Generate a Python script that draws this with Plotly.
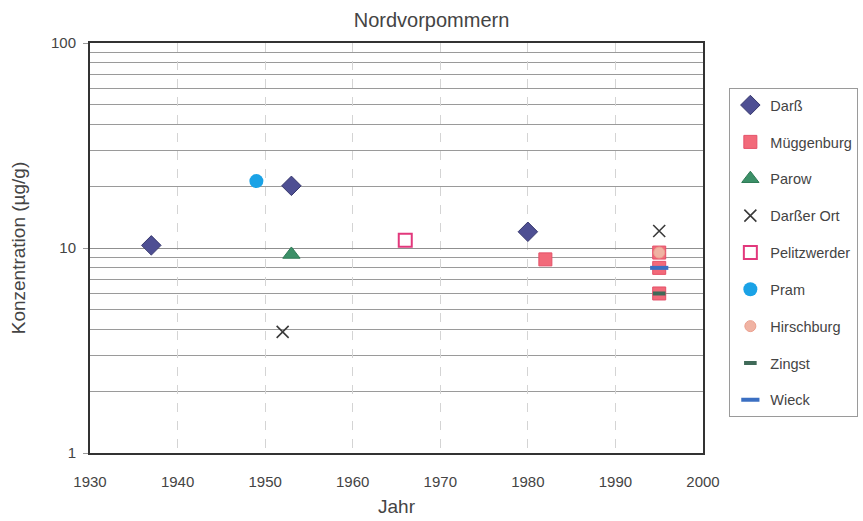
import plotly.graph_objects as go

# ---- data ----
series_names = ["Darß", "Müggenburg", "Parow", "Darßer Ort", "Pelitzwerder",
                "Pram", "Hirschburg", "Zingst", "Wieck"]
darss_years = [1937, 1953, 1980]
darss_vals = [10.3, 20.1, 12.0]
mueggenburg_years = [1982, 1995, 1995, 1995]
mueggenburg_vals = [8.8, 9.5, 8.0, 6.0]
parow_years = [1953]
parow_vals = [9.3]
darsser_ort_years = [1952, 1995]
darsser_ort_vals = [3.9, 12.1]
pelitzwerder_years = [1966]
pelitzwerder_vals = [10.9]
pram_years = [1949]
pram_vals = [21.2]
hirschburg_years = [1995]
hirschburg_vals = [9.5]
zingst_years = [1995]
zingst_vals = [6.0]
wieck_years = [1995]
wieck_vals = [8.0]

x_ticks = [1930, 1940, 1950, 1960, 1970, 1980, 1990, 2000]
y_ticks = [1, 10, 100]

FONT = "Arial, Liberation Sans, Helvetica, sans-serif"

styles = [
    dict(symbol="diamond", size=15, color="#4E4F93", line=dict(color="#38396E", width=1)),
    dict(symbol="square", size=13, color="#F26A7A", line=dict(color="#E45068", width=1)),
    dict(symbol="triangle-up", size=15, color="#3C9068", line=dict(color="#2E7A55", width=1)),
    dict(symbol="x-thin-open", size=12, color="#3A3A3A", line=dict(color="#3A3A3A", width=1.6)),
    dict(symbol="square-open", size=13, color="#E2387C", line=dict(color="#E2387C", width=2)),
    dict(symbol="circle", size=14, color="#1AA2E6", line=dict(color="#1AA2E6", width=0)),
    dict(symbol="circle", size=11, color="#F0B3A3", line=dict(color="#EBA08F", width=1)),
    dict(symbol="line-ew-open", size=9, color="#3F6A58", line=dict(color="#3F6A58", width=4)),
    dict(symbol="line-ew-open", size=13, color="#3B6FC2", line=dict(color="#3B6FC2", width=4)),
]

data = [
    (darss_years, darss_vals),
    (mueggenburg_years, mueggenburg_vals),
    (parow_years, parow_vals),
    (darsser_ort_years, darsser_ort_vals),
    (pelitzwerder_years, pelitzwerder_vals),
    (pram_years, pram_vals),
    (hirschburg_years, hirschburg_vals),
    (zingst_years, zingst_vals),
    (wieck_years, wieck_vals),
]

fig = go.Figure()
for name, (xs, ys), st in zip(series_names, data, styles):
    fig.add_trace(go.Scatter(x=xs, y=ys, mode="markers", name=name,
                             legendgroup=name, marker=st))

minor_vals = [k * 10 ** e for e in (0, 1) for k in range(2, 10)]

fig.update_layout(
    width=863, height=521,
    margin=dict(l=90, r=160, t=43, b=68, autoexpand=False),
    paper_bgcolor="white", plot_bgcolor="white",
    font=dict(family=FONT, color="#444444", size=14),
    title=dict(text="Nordvorpommern", x=0.5, xanchor="center", y=0.962,
               yanchor="middle", font=dict(size=20, color="#444444")),
    showlegend=True,
    legend=dict(x=1.043, xanchor="left", y=0.89, yanchor="top",
                bgcolor="white", bordercolor="#9a9a9a", borderwidth=1,
                font=dict(size=14.5, color="#444444"),
                tracegroupgap=15, itemwidth=30),
    xaxis=dict(range=[1930, 2000], tickvals=x_ticks, ticktext=[str(v) for v in x_ticks],
               showgrid=True, gridcolor="#d4d4d4", griddash="dash", gridwidth=1,
               showline=True, linecolor="#333333", linewidth=2, mirror=True,
               ticks="", ticklabelstandoff=14, zeroline=False,
               title=dict(text="Jahr", font=dict(size=19, color="#444444"), standoff=11),
               tickfont=dict(size=15, color="#444444")),
    yaxis=dict(type="log", range=[0, 2], tickvals=y_ticks, ticktext=[str(v) for v in y_ticks],
               showgrid=True, gridcolor="#8f8f8f", gridwidth=1,
               showline=True, linecolor="#333333", linewidth=2, mirror=True,
               ticks="outside", ticklen=5, tickcolor="#999999", ticklabelstandoff=4,
               minor=dict(tickvals=minor_vals, showgrid=True, gridcolor="#9a9a9a",
                          gridwidth=1, ticks=""),
               title=dict(text="Konzentration (µg/g)", font=dict(size=19, color="#444444"),
                          standoff=20),
               tickfont=dict(size=15, color="#444444")),
)

fig.write_html("out.html")
